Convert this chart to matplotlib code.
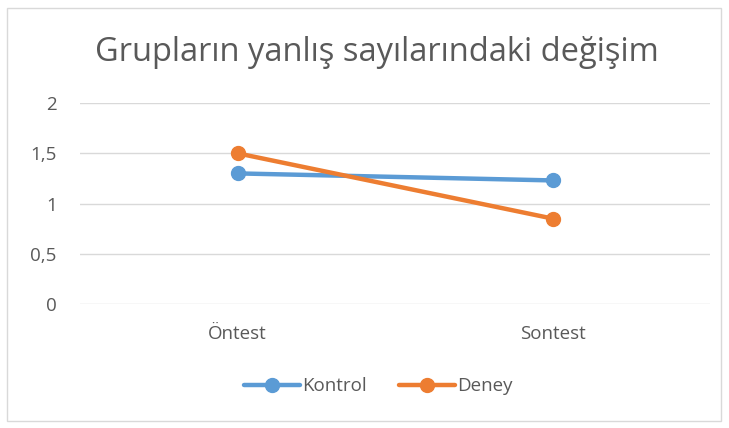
import matplotlib
matplotlib.use("Agg")
import matplotlib.pyplot as plt
from matplotlib.patches import Rectangle

categories = ["Öntest", "Sontest"]
kontrol = [1.30, 1.23]
deney = [1.50, 0.85]
yticks = [0, 0.5, 1, 1.5, 2]
ytick_labels = ["0", "0,5", "1", "1,5", "2"]

BLUE = "#5b9bd5"; ORANGE = "#ed7d31"; GRID = "#d9d9d9"; TXT = "#595959"

plt.rcParams["font.family"] = ["Open Sans", "DejaVu Sans"]

fig = plt.figure(figsize=(7.29, 4.28), dpi=100)
ax = fig.add_axes([0.110, 0.290, 0.864, 0.469])

x = [0, 1]
ax.plot(x, kontrol, color=BLUE, lw=3.2, marker="o", ms=10, label="Kontrol", solid_capstyle="round")
ax.plot(x, deney, color=ORANGE, lw=3.2, marker="o", ms=10, label="Deney", solid_capstyle="round")

ax.set_xlim(-0.5, 1.5)
ax.set_ylim(0, 2)
ax.set_yticks(yticks)
ax.set_yticklabels(ytick_labels)
ax.set_xticks(x)
ax.set_xticklabels(categories)
ax.tick_params(length=0, labelsize=13.5, labelcolor=TXT)
ax.tick_params(axis="y", pad=17)
ax.tick_params(axis="x", pad=15)
ax.grid(axis="y", color=GRID, lw=1)
ax.set_axisbelow(True)
for s in ax.spines.values():
    s.set_visible(False)

fig.text(0.517, 0.878, "Grupların yanlış sayılarındaki değişim", ha="center", va="center",
         fontsize=23.5, color=TXT)

leg = fig.legend(loc="center", bbox_to_anchor=(0.519, 0.097), ncol=2, frameon=False,
                 fontsize=13.5, handlelength=3.0, handletextpad=0.1, columnspacing=1.7)
for t in leg.get_texts():
    t.set_color(TXT)

fig.add_artist(Rectangle((0.009, 0.016), 0.980, 0.966, transform=fig.transFigure,
                         fill=False, edgecolor="#d9d9d9", lw=1))

fig.savefig("out.png", dpi=100)
